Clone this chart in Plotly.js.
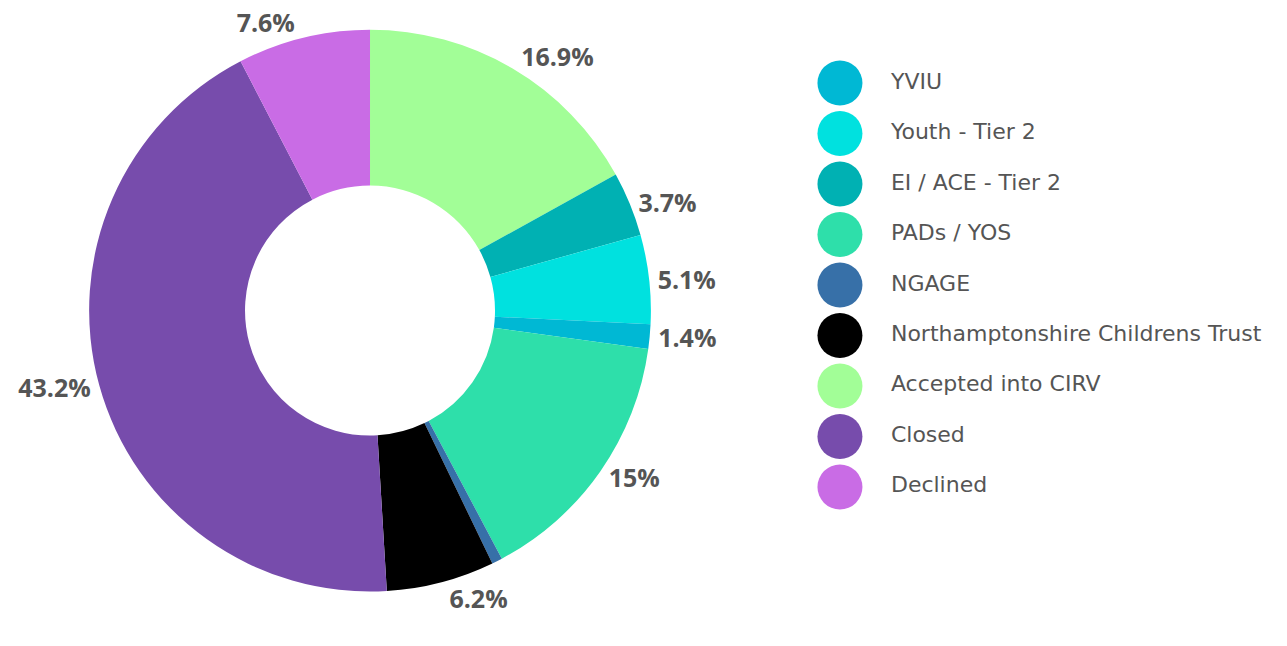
<!DOCTYPE html>
<html><head><meta charset="utf-8">
<script src="https://cdn.plot.ly/plotly-3.0.1.min.js"></script>
<style>html,body{margin:0;padding:0;background:#fff}#chart{width:1287px;height:646px}</style>
</head><body><div id="chart"></div>
<script>
// Slice order (clockwise from 12 o'clock)
const sliceLabels = ["Accepted into CIRV","EI / ACE - Tier 2","Youth - Tier 2","YVIU","PADs / YOS","NGAGE","Northamptonshire Childrens Trust","Closed","Declined"];
const sliceValues = [16.9, 3.7, 5.1, 1.4, 15, 0.6, 6.2, 43.2, 7.6];
const sliceText = ["16.9%","3.7%","5.1%","1.4%","15%","","6.2%","43.2%","7.6%"];
// Legend order
const legendLabels = ["YVIU","Youth - Tier 2","EI / ACE - Tier 2","PADs / YOS","NGAGE","Northamptonshire Childrens Trust","Accepted into CIRV","Closed","Declined"];
const colorMap = {
  "YVIU":"#00b8d4",
  "Youth - Tier 2":"#00e1df",
  "EI / ACE - Tier 2":"#00b1b3",
  "PADs / YOS":"#2edfaa",
  "NGAGE":"#3770a8",
  "Northamptonshire Childrens Trust":"#000000",
  "Accepted into CIRV":"#a2fe97",
  "Closed":"#774cac",
  "Declined":"#c96ce5"
};
const legendIdx = legendLabels.map((_, i) => i);

const pie = {
  type: "pie",
  labels: sliceLabels,
  values: sliceValues,
  text: sliceText,
  textinfo: "text",
  textposition: "outside",
  sort: false,
  direction: "clockwise",
  rotation: 0,
  hole: 0.445,
  marker: {colors: sliceLabels.map(l => colorMap[l]), line: {width: 0}},
  outsidetextfont: {family: "Open Sans", size: 25, color: "#555555", weight: "bold"},
  domain: {x: [0.0544, 0.5206], y: [0.0844, 0.954]},
  showlegend: false,
  hoverinfo: "label+percent"
};
const legMarkers = {
  type: "scatter", mode: "markers",
  x: legendLabels.map(() => 42), y: legendIdx,
  marker: {size: 45, color: legendLabels.map(l => colorMap[l]), line: {width: 0}},
  xaxis: "x2", yaxis: "y2", showlegend: false, hoverinfo: "skip"
};
const legText = {
  type: "scatter", mode: "text",
  x: legendLabels.map(() => 93), y: legendIdx,
  text: legendLabels, textposition: "middle right",
  textfont: {family: "DejaVu Sans", size: 22, color: "#555555"},
  xaxis: "x2", yaxis: "y2", showlegend: false, hoverinfo: "skip"
};
const hiddenAxis = {visible: false, showgrid: false, zeroline: false, fixedrange: true};
const layout = {
  width: 1287, height: 646,
  margin: {l: 0, r: 0, t: 0, b: 0},
  font: {family: "Open Sans"},
  paper_bgcolor: "#ffffff", plot_bgcolor: "rgba(0,0,0,0)",
  showlegend: false,
  xaxis2: Object.assign({domain: [0.62, 1], range: [0, 489], anchor: "y2"}, hiddenAxis),
  yaxis2: Object.assign({domain: [0, 1], range: [11.149, -1.644], anchor: "x2"}, hiddenAxis)
};
Plotly.newPlot("chart", [pie, legMarkers, legText], layout, {displayModeBar: false, staticPlot: true});
</script></body></html>
